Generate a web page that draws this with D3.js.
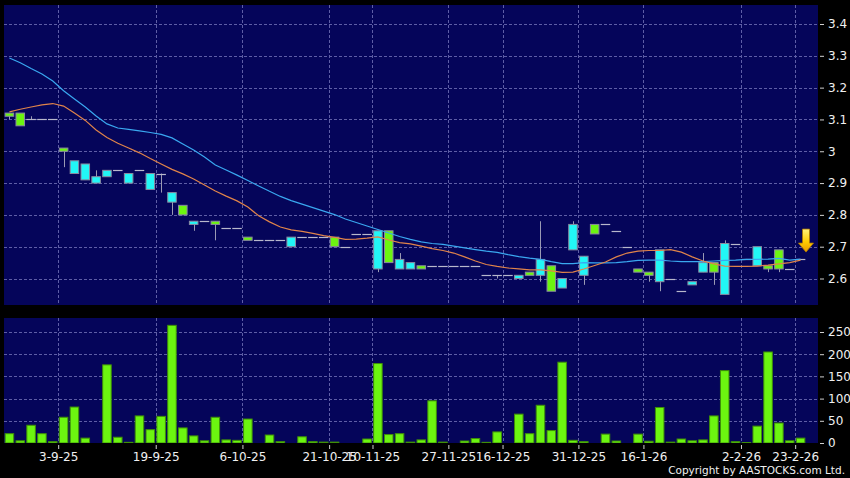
<!DOCTYPE html>
<html><head><meta charset="utf-8">
<script src="https://cdn.jsdelivr.net/npm/d3@7"></script>
<style>html,body{margin:0;padding:0;background:#000;}svg{display:block;}</style>
</head><body><svg id="c" width="850" height="478"></svg>
<script>
// ---- data ----
const opens  = [3.11,3.08,3.10,3.10,3.10,3.00,2.97,2.96,2.92,2.94,2.94,2.93,2.94,2.93,2.93,2.87,2.80,2.78,2.78,2.77,
                2.76,2.76,2.72,2.72,2.72,2.72,2.73,2.73,2.73,2.73,2.70,2.70,2.74,2.74,2.75,2.65,2.66,2.65,2.63,2.64,
                2.64,2.64,2.64,2.64,2.61,2.61,2.61,2.61,2.61,2.66,2.56,2.60,2.77,2.67,2.74,2.77,2.75,2.70,2.62,2.61,
                2.69,2.60,2.56,2.59,2.65,2.62,2.71,2.71,2.66,2.70,2.63,2.63,2.63,2.66];
const closes = [3.12,3.12,3.10,3.10,3.10,3.01,2.93,2.91,2.90,2.92,2.94,2.90,2.94,2.88,2.93,2.84,2.83,2.77,2.78,2.78,
                2.76,2.76,2.73,2.72,2.72,2.72,2.70,2.73,2.73,2.73,2.73,2.70,2.74,2.74,2.63,2.75,2.63,2.63,2.64,2.64,
                2.64,2.64,2.64,2.64,2.61,2.61,2.61,2.60,2.62,2.61,2.64,2.57,2.69,2.61,2.77,2.77,2.75,2.70,2.63,2.62,
                2.59,2.60,2.56,2.58,2.62,2.65,2.55,2.71,2.66,2.64,2.64,2.69,2.63,2.66];
const highs  = [3.12,3.12,3.11,3.10,3.10,3.01,2.97,2.96,2.94,2.94,2.94,2.93,2.94,2.93,2.93,2.87,2.83,2.78,2.78,2.78,
                2.76,2.76,2.73,2.72,2.72,2.72,2.73,2.73,2.73,2.73,2.73,2.70,2.74,2.74,2.75,2.75,2.68,2.65,2.64,2.64,
                2.64,2.64,2.64,2.64,2.61,2.61,2.61,2.61,2.62,2.78,2.64,2.60,2.78,2.67,2.77,2.77,2.75,2.70,2.63,2.62,
                2.69,2.60,2.56,2.59,2.68,2.65,2.72,2.71,2.66,2.70,2.64,2.69,2.63,2.66];
const lows   = [3.10,3.08,3.10,3.10,3.10,2.95,2.93,2.91,2.90,2.92,2.94,2.90,2.94,2.88,2.87,2.80,2.80,2.75,2.78,2.72,
                2.76,2.76,2.72,2.72,2.72,2.72,2.70,2.73,2.73,2.73,2.70,2.70,2.74,2.74,2.62,2.65,2.63,2.63,2.63,2.64,
                2.64,2.64,2.64,2.64,2.61,2.60,2.61,2.60,2.61,2.59,2.56,2.57,2.69,2.58,2.74,2.77,2.75,2.70,2.62,2.59,
                2.56,2.60,2.56,2.58,2.62,2.58,2.55,2.71,2.66,2.64,2.62,2.62,2.63,2.66];
const volumes = [21,5,40,21,3,58,81,11,0.3,176,13,1.5,61,30,60,265,34,16,5,58,
                 7,6,54,0.3,18,3,0.3,14,3,2,2,0.3,0.3,9,179,19,21,2,7,95,
                 2,0.3,4.5,10,1.5,25,0.3,65,21,85,28,182,6,3,0.3,20,4.5,0.3,20,4,
                 80,2,9,5,7,61,163,3,1,38,205,45,5,11];
// 10-day (orange) and 20-day (blue) moving averages
const maShort = [3.124,3.132,3.139,3.146,3.150,3.142,3.120,3.097,3.067,3.043,3.025,3.010,2.995,2.977,2.960,2.943,2.929,2.913,2.894,2.875,
                 2.859,2.844,2.825,2.797,2.778,2.762,2.753,2.748,2.742,2.735,2.729,2.723,2.724,2.727,2.731,2.721,2.713,2.709,2.702,2.694,
                 2.688,2.680,2.668,2.655,2.644,2.638,2.633,2.630,2.627,2.627,2.624,2.619,2.620,2.630,2.641,2.652,2.668,2.680,2.686,2.688,
                 2.688,2.691,2.683,2.668,2.655,2.646,2.639,2.638,2.638,2.639,2.642,2.646,2.650,2.658];
const maLong  = [3.293,3.278,3.260,3.243,3.221,3.190,3.164,3.139,3.111,3.086,3.073,3.069,3.064,3.059,3.053,3.042,3.023,3.004,2.982,2.957,
                 2.941,2.925,2.908,2.891,2.874,2.858,2.845,2.834,2.823,2.812,2.801,2.787,2.776,2.765,2.754,2.743,2.732,2.723,2.715,2.710,
                 2.707,2.702,2.696,2.691,2.686,2.682,2.675,2.669,2.664,2.660,2.653,2.647,2.647,2.650,2.649,2.649,2.650,2.653,2.657,2.658,
                 2.658,2.655,2.653,2.653,2.653,2.655,2.657,2.658,2.660,2.660,2.661,2.663,2.658,2.661];
const priceTicks = [2.6,2.7,2.8,2.9,3,3.1,3.2,3.3,3.4];
const volTicks = [0,50,100,150,200,250];
const xTickIndex = [5,14,22,30,34,41,46,53,59,68,73];
const xTickLabels = ["3-9-25","19-9-25","6-10-25","21-10-25","10-11-25","27-11-25","16-12-25","31-12-25","16-1-26","2-2-26","23-2-26"];

// ---- layout ----
const W = 850, H = 478;
const L = 4, R = 818, pTop = 5, pBot = 305, vTop = 318, vBot = 443;
const n = closes.length;
const FONT = "'DejaVu Sans', sans-serif";
const svg = d3.select('#c');
svg.append('rect').attr('width', W).attr('height', H).attr('fill', '#000');

const defs = svg.append('defs');
defs.append('clipPath').attr('id','clipP').append('rect').attr('x',L).attr('y',pTop).attr('width',R-L).attr('height',pBot-pTop);
defs.append('clipPath').attr('id','clipV').append('rect').attr('x',L).attr('y',vTop).attr('width',R-L).attr('height',vBot-vTop);
const grad = defs.append('linearGradient').attr('id','arrowG').attr('x1',0).attr('y1',0).attr('x2',0).attr('y2',1);
grad.append('stop').attr('offset','0%').attr('stop-color','#fff27a');
grad.append('stop').attr('offset','55%').attr('stop-color','#ffcc00');
grad.append('stop').attr('offset','100%').attr('stop-color','#e89a00');

const x = d3.scaleBand().domain(d3.range(n)).range([L, 806]).paddingInner(0.12).paddingOuter(0.06);
const xb = d3.scaleLinear().domain([0, n]).range([L, 806]);   // slot boundaries
const yP = d3.scaleLinear().domain([2.6, 3.4]).range([278.5, 24]);
const yV = d3.scaleLinear().domain([0, 250]).range([vBot, 332]);
const bw = x.bandwidth();
const cx = i => x(i) + bw / 2;

const panelFill = '#05055a', gridCol = '#5e5ea6';
svg.append('rect').attr('x',L).attr('y',pTop).attr('width',R-L).attr('height',pBot-pTop).attr('fill',panelFill);
svg.append('rect').attr('x',L).attr('y',vTop).attr('width',R-L).attr('height',vBot-vTop).attr('fill',panelFill);

// grids
const g = svg.append('g').attr('stroke', gridCol).attr('stroke-width',1).attr('stroke-dasharray','3,2').attr('shape-rendering','crispEdges');
g.selectAll('.hp').data(priceTicks).join('line').attr('x1',L).attr('x2',R).attr('y1',d=>Math.round(yP(d))+0.5).attr('y2',d=>Math.round(yP(d))+0.5);
g.selectAll('.hv').data(volTicks.slice(1)).join('line').attr('x1',L).attr('x2',R).attr('y1',d=>Math.round(yV(d))+0.5).attr('y2',d=>Math.round(yV(d))+0.5);
xTickIndex.forEach(k => {
  const xx = Math.round(xb(k)) + 0.5;
  g.append('line').attr('x1',xx).attr('x2',xx).attr('y1',pTop).attr('y2',pBot);
  g.append('line').attr('x1',xx).attr('x2',xx).attr('y1',vTop).attr('y2',vBot);
});

// candles
const cg = svg.append('g').attr('clip-path','url(#clipP)');
const data = d3.range(n).map(i => ({i, o: opens[i], c: closes[i], h: highs[i], l: lows[i]}));
cg.selectAll('.wick').data(data.filter(d => d.h > Math.max(d.o,d.c) || d.l < Math.min(d.o,d.c)))
  .join('line').attr('x1',d=>Math.round(cx(d.i))+0.5).attr('x2',d=>Math.round(cx(d.i))+0.5)
  .attr('y1',d=>yP(d.h)).attr('y2',d=>yP(d.l)).attr('stroke','#9a9ab4').attr('stroke-width',1);
cg.selectAll('.doji').data(data.filter(d => d.o === d.c))
  .join('line').attr('x1',d=>x(d.i)).attr('x2',d=>x(d.i)+bw)
  .attr('y1',d=>Math.round(yP(d.c))+0.5).attr('y2',d=>Math.round(yP(d.c))+0.5)
  .attr('stroke','#b8b8cc').attr('stroke-width',1.2);
cg.selectAll('.body').data(data.filter(d => d.o !== d.c))
  .join('rect').attr('x',d=>x(d.i)+0.5).attr('width',bw-1)
  .attr('y',d=>yP(Math.max(d.o,d.c))).attr('height',d=>Math.max(1, yP(Math.min(d.o,d.c)) - yP(Math.max(d.o,d.c))))
  .attr('fill',d=>d.c > d.o ? '#6cf510' : '#22f6f6').attr('stroke','#8a8aa0').attr('stroke-width',1);

// moving averages
const line = arr => d3.line().x((d,i)=>cx(i)).y(d=>yP(d)).curve(d3.curveLinear)(arr);
cg.append('path').attr('d', line(maLong)).attr('fill','none').attr('stroke','#3aa8f0').attr('stroke-width',1.2);
cg.append('path').attr('d', line(maShort)).attr('fill','none').attr('stroke','#e0844a').attr('stroke-width',1.2);

// arrow marker at last bar
const ax = xb(n), ay = yP(2.683);
svg.append('path').attr('transform',`translate(${ax},${ay})`)
  .attr('d','M-3.5,-23 L3.5,-23 L3.5,-9 L7.5,-9 L0,0 L-7.5,-9 L-3.5,-9 Z')
  .attr('fill','url(#arrowG)').attr('stroke','#b07a00').attr('stroke-width',0.8);

// volume bars
const vg = svg.append('g').attr('clip-path','url(#clipV)');
vg.selectAll('rect').data(volumes.map((v,i)=>({v,i})).filter(d=>d.v>=1))
  .join('rect').attr('x',d=>x(d.i)+0.5).attr('width',bw-1)
  .attr('y',d=>yV(d.v)).attr('height',d=>vBot - yV(d.v))
  .attr('fill','#6cf510').attr('stroke','#3f8f08').attr('stroke-width',1);

// axes
function styleAxis(sel, size){
  sel.select('.domain').remove();
  sel.selectAll('.tick line').attr('stroke','#d0d0d0');
  sel.selectAll('.tick text').attr('fill','#f0f0f0').attr('font-family',FONT).attr('font-size',size);
}
svg.append('g').attr('transform','translate(820,0)')
  .call(d3.axisRight(yP).tickValues(priceTicks).tickSize(4).tickPadding(4).tickFormat(d=>String(d)))
  .call(s=>styleAxis(s, 12));
svg.append('g').attr('transform','translate(820,0)')
  .call(d3.axisRight(yV).tickValues(volTicks).tickSize(4).tickPadding(4).tickFormat(d=>String(d)))
  .call(s=>styleAxis(s, 12));
svg.append('g').attr('transform',`translate(0,${vBot+2})`)
  .call(d3.axisBottom(xb).tickValues(xTickIndex).tickSize(4).tickPadding(3).tickFormat((d,i)=>xTickLabels[i]))
  .call(s=>styleAxis(s, 12));

svg.append('text').attr('x',845).attr('y',473.5).attr('text-anchor','end')
  .attr('font-family',FONT).attr('font-size',10.5).attr('fill','#f0f0f0')
  .text('Copyright by AASTOCKS.com Ltd.');
</script></body></html>
